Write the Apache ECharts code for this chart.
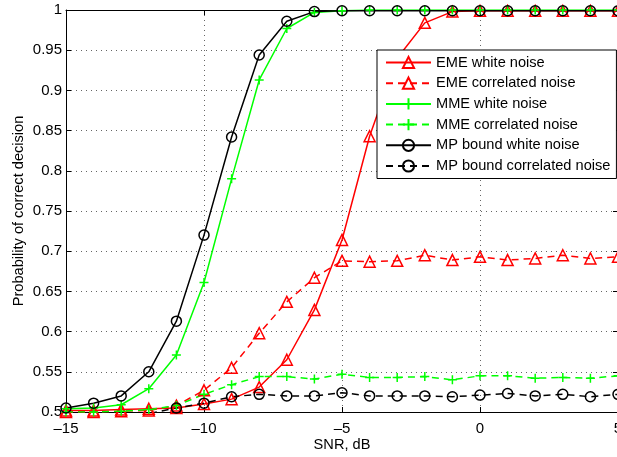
<!DOCTYPE html>
<html>
<head>
<meta charset="utf-8">
<script src="https://cdn.jsdelivr.net/npm/echarts@6/dist/echarts.min.js"></script>
<style>
  html, body { margin: 0; padding: 0; background: #fff; }
  #chart { width: 617px; height: 457px; }
</style>
</head>
<body>
<div id="chart"></div>
<script>
const snr = [-15, -14, -13, -12, -11, -10, -9, -8, -7, -6, -5, -4, -3, -2, -1, 0, 1, 2, 3, 4, 5];

const emeWhite = [0.502, 0.502, 0.503, 0.504, 0.505, 0.510, 0.516, 0.531, 0.565, 0.627, 0.714,
    0.843, 0.940, 0.984, 0.998, 0.999, 0.999, 0.999, 0.999, 0.999, 0.999];
const emeCorr = [0.500, 0.500, 0.501, 0.502, 0.508, 0.527, 0.555, 0.598, 0.637, 0.667, 0.688,
    0.687, 0.688, 0.695, 0.689, 0.693, 0.689, 0.691, 0.695, 0.691, 0.693];
const mmeWhite = [0.504, 0.505, 0.509, 0.529, 0.571, 0.661, 0.790, 0.913, 0.977, 0.997, 0.999,
    1.0, 1.0, 1.0, 1.0, 1.0, 1.0, 1.0, 1.0, 1.0, 1.0];
const mmeCorr = [0.500, 0.500, 0.501, 0.503, 0.508, 0.522, 0.534, 0.544, 0.544, 0.541, 0.547,
    0.543, 0.543, 0.544, 0.540, 0.545, 0.545, 0.542, 0.543, 0.542, 0.545];
const mpWhite = [0.505, 0.511, 0.520, 0.550, 0.613, 0.720, 0.842, 0.944, 0.986, 0.998, 0.999,
    0.999, 0.999, 0.999, 0.999, 0.999, 0.999, 0.999, 0.999, 0.999, 0.999];
const mpCorr = [0.496, 0.496, 0.497, 0.498, 0.505, 0.511, 0.519, 0.522, 0.520, 0.520, 0.524,
    0.520, 0.520, 0.520, 0.519, 0.521, 0.523, 0.520, 0.522, 0.519, 0.522];

const xTicks = [-15, -10, -5, 0, 5];

const RED = '#ff0000';
const GREEN = '#00ff00';
const BLACK = '#000000';
const FONT = 'Liberation Sans, Arial, sans-serif';
const PLUS = 'path://M0,5L10,5M5,0L5,10';

const pairs = (ys) => snr.map((x, i) => [x, ys[i]]);

const makeSeries = (name, ys, color, dashed, symbol, size) => ({
    name: name,
    type: 'line',
    data: pairs(ys),
    color: color,
    symbol: symbol,
    symbolSize: size,
    showAllSymbol: true,
    clip: true,
    lineStyle: { color: color, width: 1.5, type: dashed ? [7, 5] : 'solid' },
    itemStyle: { color: 'rgba(0,0,0,0)', borderColor: color, borderWidth: 1.5 },
    emphasis: { disabled: true }
});

const fmtX = (v) => (v < 0 ? '\u2013' + Math.abs(v) : String(v));
const fmtY = (v) => String(parseFloat(v.toFixed(2)));

const baseAxis = {
    axisLine: { show: true, onZero: false, lineStyle: { color: BLACK, width: 1 } },
    axisTick: { show: true, inside: true, length: 5, lineStyle: { color: BLACK } },
    splitLine: { show: false }
};

const option = {
    animation: false,
    backgroundColor: '#fff',
    grid: { left: 66, right: -1, top: 10, bottom: 45, outerBoundsMode: 'none', containLabel: false },
    legend: {
        orient: 'vertical',
        left: 377,
        top: 50,
        itemWidth: 45,
        itemHeight: 14,
        itemGap: 5.7,
        padding: [5, 6, 5, 8],
        backgroundColor: '#fff',
        borderColor: BLACK,
        borderWidth: 1,
        borderRadius: 0,
        textStyle: { fontFamily: FONT, fontSize: 14.6, color: BLACK },
        data: ['EME white noise', 'EME correlated noise', 'MME white noise',
            'MME correlated noise', 'MP bound white noise', 'MP bound correlated noise']
    },
    xAxis: [
        Object.assign({}, baseAxis, {
            type: 'value',
            position: 'bottom',
            min: xTicks[0],
            max: xTicks[xTicks.length - 1],
            interval: 5,
            name: 'SNR, dB',
            nameLocation: 'middle',
            nameGap: 25,
            nameMoveOverlap: false,
            nameTextStyle: { fontFamily: FONT, fontSize: 14.6, color: BLACK },
            axisLabel: { formatter: fmtX, fontFamily: FONT, fontSize: 15, color: BLACK, margin: 9 },
            splitLine: { show: true, lineStyle: { color: '#666', width: 1, type: [1, 4] } }
        }),
        Object.assign({}, baseAxis, {
            type: 'value',
            position: 'top',
            min: -15,
            max: 5,
            interval: 5,
            axisLabel: { show: false }
        })
    ],
    yAxis: [
        Object.assign({}, baseAxis, {
            type: 'value',
            position: 'left',
            min: 0.5,
            max: 1,
            interval: 0.05,
            name: 'Probability of correct decision',
            nameLocation: 'middle',
            nameRotate: 90,
            nameGap: 40,
            nameMoveOverlap: false,
            nameTextStyle: { fontFamily: FONT, fontSize: 14.6, color: BLACK },
            axisLabel: { formatter: fmtY, fontFamily: FONT, fontSize: 15, color: BLACK, margin: 4 },
            splitLine: { show: true, lineStyle: { color: '#666', width: 1, type: [1, 4] } }
        }),
        Object.assign({}, baseAxis, {
            type: 'value',
            position: 'right',
            min: 0.5,
            max: 1,
            interval: 0.05,
            axisLabel: { show: false }
        })
    ],
    series: [
        makeSeries('EME white noise', emeWhite, RED, false, 'triangle', 11),
        makeSeries('EME correlated noise', emeCorr, RED, true, 'triangle', 11),
        makeSeries('MME white noise', mmeWhite, GREEN, false, PLUS, 9),
        makeSeries('MME correlated noise', mmeCorr, GREEN, true, PLUS, 9),
        makeSeries('MP bound white noise', mpWhite, BLACK, false, 'circle', 10),
        makeSeries('MP bound correlated noise', mpCorr, BLACK, true, 'circle', 10)
    ]
};

const chart = echarts.init(document.getElementById('chart'), null, { renderer: 'canvas' });
chart.setOption(option);
</script>
</body>
</html>
